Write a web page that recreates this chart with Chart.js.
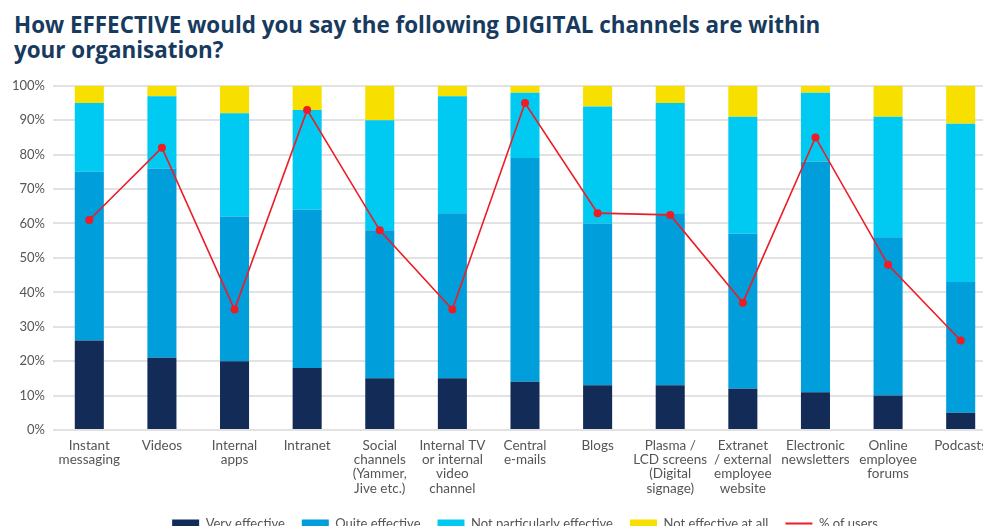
<!DOCTYPE html>
<html>
<head>
<meta charset="utf-8">
<script src="https://cdn.jsdelivr.net/npm/chart.js@4"></script>
<style>
  html, body { margin: 0; padding: 0; background: #fff; }
  body { width: 983px; height: 526px; overflow: hidden; position: relative; }
  .title {
    position: absolute; left: 14px; top: 12px; width: 960px;
    font-family: "Open Sans", sans-serif; font-weight: 700; font-size: 22.4px;
    line-height: 25px; color: #173a5e;
  }
  .chart-wrap { position: absolute; left: 0; top: 70px; width: 1050px; height: 470px; }
</style>
</head>
<body>
<div class="title">How EFFECTIVE would you say the following DIGITAL channels are within<br>your organisation?</div>
<div class="chart-wrap"><canvas id="chart"></canvas></div>
<script>
// categories (multi-line labels)
const channels = [
  ['Instant', 'messaging'],
  ['Videos'],
  ['Internal', 'apps'],
  ['Intranet'],
  ['Social', 'channels', '(Yammer,', 'Jive etc.)'],
  ['Internal TV', 'or internal', 'video', 'channel'],
  ['Central', 'e-mails'],
  ['Blogs'],
  ['Plasma /', 'LCD screens', '(Digital', 'signage)'],
  ['Extranet', '/ external', 'employee', 'website'],
  ['Electronic', 'newsletters'],
  ['Online', 'employee', 'forums'],
  ['Podcasts']
];

// share of respondents per answer (%)
const veryEffective       = [26, 21, 20, 18, 15, 15, 14, 13, 13, 12, 11, 10, 5];
const quiteEffective      = [49, 55, 42, 46, 43, 48, 65, 47, 50, 45, 67, 46, 38];
const notParticularly     = [20, 21, 30, 29, 32, 34, 19, 34, 32, 34, 20, 35, 46];
const notEffectiveAtAll   = [5, 3, 8, 7, 10, 3, 2, 6, 5, 9, 2, 9, 11];
const pctOfUsers          = [61, 82, 35, 93, 58, 35, 95, 63, 62.5, 37, 85, 48, 26];

const yTicks = [0, 10, 20, 30, 40, 50, 60, 70, 80, 90, 100];

const RED = '#ee1c25';
const GREY = '#555555';

const barDefaults = { type: 'bar', stack: 'answers', barPercentage: 0.4, categoryPercentage: 1, order: 1, borderWidth: 0 };

// centre the legend under the plot area instead of the whole canvas
const legendShift = {
  id: 'legendShift',
  afterLayout(chart) {
    const l = chart.legend;
    const dx = (chart.chartArea.left + chart.chartArea.right) / 2 - (l.left + l.right) / 2;
    l.left += dx;
    l.right += dx;
  }
};

new Chart(document.getElementById('chart'), {
  data: {
    labels: channels,
    datasets: [
      { ...barDefaults, label: 'Very effective', data: veryEffective, backgroundColor: '#132b57' },
      { ...barDefaults, label: 'Quite effective', data: quiteEffective, backgroundColor: '#009edb' },
      { ...barDefaults, label: 'Not particularly effective', data: notParticularly, backgroundColor: '#00c9f2' },
      { ...barDefaults, label: 'Not effective at all', data: notEffectiveAtAll, backgroundColor: '#f7df00' },
      {
        type: 'line', label: '% of users', data: pctOfUsers, stack: 'users', order: 0,
        borderColor: RED, backgroundColor: RED, borderWidth: 1.6, tension: 0,
        pointRadius: 4, pointHoverRadius: 4, pointBackgroundColor: RED, pointBorderWidth: 0
      }
    ]
  },
  plugins: [legendShift],
  options: {
    responsive: true,
    maintainAspectRatio: false,
    animation: false,
    layout: { padding: { top: 15, right: 53, left: 0, bottom: 0 } },
    plugins: {
      tooltip: { enabled: false },
      legend: {
        position: 'bottom',
        labels: {
          color: GREY,
          font: { family: 'Lato', size: 13 },
          usePointStyle: true,
          pointStyleWidth: 27,
          boxWidth: 27,
          boxHeight: 8,
          padding: 17,
          sort: (a, b) => a.datasetIndex - b.datasetIndex,
          generateLabels: chart => Chart.defaults.plugins.legend.labels.generateLabels(chart).map(l => {
            if (l.datasetIndex === 4) {
              l.pointStyle = 'line'; l.strokeStyle = RED; l.lineWidth = 2;
            } else {
              l.pointStyle = 'rect'; l.lineWidth = 0;
            }
            return l;
          })
        }
      }
    },
    scales: {
      x: {
        stacked: true,
        grid: { display: false },
        border: { display: false },
        ticks: { color: GREY, font: { family: 'Lato', size: 13.5, lineHeight: 1.07 }, maxRotation: 0, autoSkip: false, padding: 0 },
        afterFit: s => { s.height = 70; }
      },
      y: {
        stacked: true,
        min: 0,
        max: 100,
        afterBuildTicks: s => { s.ticks = yTicks.map(v => ({ value: v })); },
        grid: { color: '#e2e2e2', lineWidth: 2, drawTicks: false },
        border: { display: false },
        ticks: { color: GREY, font: { family: 'Lato', size: 13 }, padding: 8, callback: v => v + '%' },
        afterFit: s => { s.width = 53; }
      }
    }
  }
});
</script>
</body>
</html>
